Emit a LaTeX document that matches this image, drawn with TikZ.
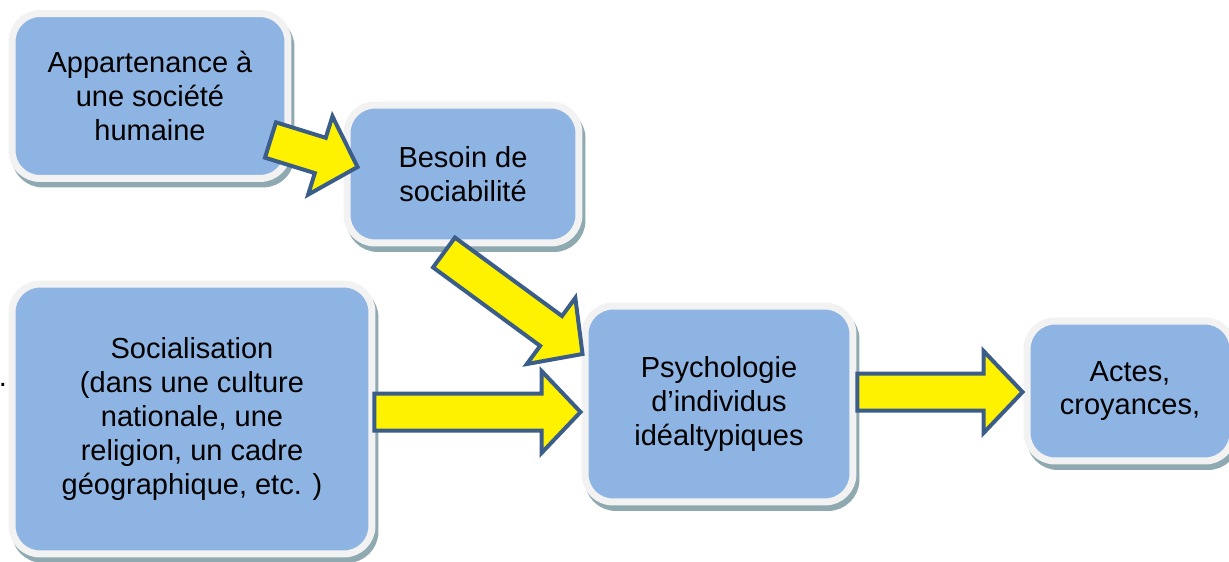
\documentclass[tikz,border=0pt]{standalone}
\usepackage{fontspec}
\setmainfont{Liberation Sans}
\usetikzlibrary{calc}

\definecolor{boxblue}{HTML}{8EB4E3}
\definecolor{boxrim}{HTML}{F2F2F2}
\definecolor{boxshadow}{HTML}{8FA9B1}
\definecolor{arrowblue}{HTML}{3B5D8A}

\tikzset{
  box/.style={draw=boxrim, fill=boxblue, line width=0.14cm, rounded corners=0.56cm,
    inner sep=0pt, align=center, font=\fontsize{16.5}{19.3}\selectfont,
    preaction={draw=boxshadow, fill=boxshadow,
      transform canvas={shift={(0.06cm,-0.11cm)}}}},
  yarrow/.style={fill=yellow, draw=arrowblue, line width=0.08cm, line join=miter}
}

% fleche pleine de #1 vers #2
\newcommand{\bigarrow}[2]{%
  \coordinate (neck) at ($(#2)!0.78cm!(#1)$);
  \draw[yarrow] ($(#1)!0.37cm!90:(#2)$) -- ($(neck)!0.37cm!-90:(#1)$)
    -- ($(neck)!0.82cm!-90:(#1)$) -- (#2) -- ($(neck)!0.82cm!90:(#1)$)
    -- ($(neck)!0.37cm!90:(#1)$) -- ($(#1)!0.37cm!-90:(#2)$) -- cycle;}

\begin{document}
\begin{tikzpicture}[x=0.02cm, y=-0.02cm]
    \clip (0,0) rectangle (1229,561);

    % les cases
    \node[box, minimum width=5.52cm, minimum height=3.3cm] (app) at (150,96)
        {Appartenance à\\une société\\humaine};
    \node[box, minimum width=4.64cm, minimum height=2.76cm] (bes) at (463,174)
        {Besoin de\\sociabilité};
    \node[box, minimum width=7.2cm, minimum height=5.4cm] (soc) at (192,419)
        {Socialisation\\(dans une culture\\nationale, une\\religion, un cadre\\géographique, etc. )};
    \node[box, minimum width=5.36cm, minimum height=3.92cm] (psy) at (719,404)
        {Psychologie\\d’individus\\idéaltypiques};
    \node[box, minimum width=4.12cm, minimum height=2.8cm] (act) at (1130,391)
        {Actes,\\croyances,};
    \node[inner sep=0pt, font=\fontsize{16.5}{19}\selectfont] (dot) at (3,385) {.};

    % les fleches
    \coordinate (a1s) at ([shift={(-21,44)}]app.east);
    \coordinate (a1t) at ([shift={(14,-7)}]bes.west);
    \coordinate (a2s) at ([shift={(-19,6)}]bes.south);
    \coordinate (a2t) at ([shift={(1,-50)}]psy.west);
    \coordinate (a3s) at ([shift={(-1,-7)}]soc.east);
    \coordinate (a3t) at ([shift={(-1,8)}]psy.west);
    \coordinate (a4s) at ([shift={(1,-12)}]psy.east);
    \coordinate (a4t) at ([shift={(-1,1)}]act.west);

    \bigarrow{a1s}{a1t}
    \bigarrow{a2s}{a2t}
    \bigarrow{a3s}{a3t}
    \bigarrow{a4s}{a4t}
\end{tikzpicture}
\end{document}
